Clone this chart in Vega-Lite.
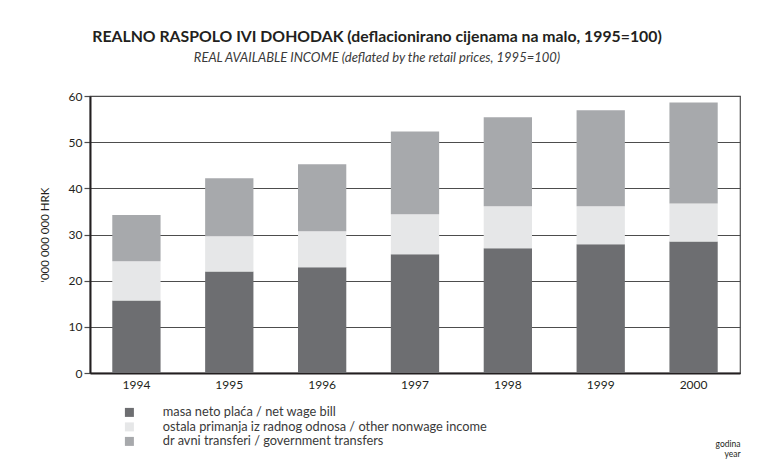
{
  "$schema": "https://vega.github.io/schema/vega-lite/v6.json",
  "width": 650,
  "height": 277,
  "autosize": {"type": "none"},
  "padding": {"left": 90, "top": 96, "right": 29, "bottom": 86},
  "background": "white",
  "title": {
    "text": "REALNO RASPOLO  IVI DOHODAK (deflacionirano cijenama na malo, 1995=100)",
    "subtitle": "REAL AVAILABLE INCOME (deflated by the retail prices, 1995=100)",
    "anchor": "middle",
    "dx": -38,
    "offset": 24,
    "font": "Lato",
    "fontSize": 15.8,
    "fontWeight": "bold",
    "color": "#231f20",
    "subtitleFont": "Lato",
    "subtitleFontSize": 13,
    "subtitleFontStyle": "italic",
    "subtitleColor": "#3a3a3a",
    "subtitlePadding": 6
  },
  "data": {
    "values": [
      {"year": "1994", "series": "masa neto plaća / net wage bill", "k": 1, "value": 15.7},
      {"year": "1994", "series": "ostala primanja iz radnog odnosa / other nonwage income", "k": 2, "value": 8.5},
      {"year": "1994", "series": "dr  avni transferi / government transfers", "k": 3, "value": 10.0},
      {"year": "1995", "series": "masa neto plaća / net wage bill", "k": 1, "value": 22.0},
      {"year": "1995", "series": "ostala primanja iz radnog odnosa / other nonwage income", "k": 2, "value": 7.6},
      {"year": "1995", "series": "dr  avni transferi / government transfers", "k": 3, "value": 12.6},
      {"year": "1996", "series": "masa neto plaća / net wage bill", "k": 1, "value": 22.9},
      {"year": "1996", "series": "ostala primanja iz radnog odnosa / other nonwage income", "k": 2, "value": 7.8},
      {"year": "1996", "series": "dr  avni transferi / government transfers", "k": 3, "value": 14.5},
      {"year": "1997", "series": "masa neto plaća / net wage bill", "k": 1, "value": 25.7},
      {"year": "1997", "series": "ostala primanja iz radnog odnosa / other nonwage income", "k": 2, "value": 8.7},
      {"year": "1997", "series": "dr  avni transferi / government transfers", "k": 3, "value": 17.9},
      {"year": "1998", "series": "masa neto plaća / net wage bill", "k": 1, "value": 27.0},
      {"year": "1998", "series": "ostala primanja iz radnog odnosa / other nonwage income", "k": 2, "value": 9.1},
      {"year": "1998", "series": "dr  avni transferi / government transfers", "k": 3, "value": 19.3},
      {"year": "1999", "series": "masa neto plaća / net wage bill", "k": 1, "value": 27.9},
      {"year": "1999", "series": "ostala primanja iz radnog odnosa / other nonwage income", "k": 2, "value": 8.2},
      {"year": "1999", "series": "dr  avni transferi / government transfers", "k": 3, "value": 20.8},
      {"year": "2000", "series": "masa neto plaća / net wage bill", "k": 1, "value": 28.5},
      {"year": "2000", "series": "ostala primanja iz radnog odnosa / other nonwage income", "k": 2, "value": 8.2},
      {"year": "2000", "series": "dr  avni transferi / government transfers", "k": 3, "value": 21.9}
    ]
  },
  "mark": {"type": "bar"},
  "encoding": {
    "x": {
      "field": "year",
      "type": "nominal",
      "scale": {"paddingInner": 0.48, "paddingOuter": 0.24},
      "axis": {
        "labelAngle": 0,
        "labelFont": "Lato",
        "labelFontSize": 12,
        "labelColor": "#231f20",
        "labelPadding": 6,
        "ticks": false,
        "domainColor": "#231f20",
        "domainWidth": 2,
        "title": ["godina", "year"],
        "titleFont": "Lato",
        "titleFontSize": 8.5,
        "titleFontWeight": "normal",
        "titleColor": "#231f20",
        "titleAnchor": "end",
        "titleAlign": "right",
        "titleX": 650,
        "titleY": 66,
        "titleLineHeight": 10
      }
    },
    "y": {
      "field": "value",
      "type": "quantitative",
      "aggregate": "sum",
      "stack": "zero",
      "scale": {"domain": [0, 60]},
      "axis": {
        "values": [0, 10, 20, 30, 40, 50, 60],
        "labelFont": "Lato",
        "labelFontSize": 12,
        "labelColor": "#231f20",
        "labelPadding": 2,
        "tickSize": 6,
        "tickColor": "#4d4d4d",
        "tickWidth": 1.2,
        "grid": true,
        "gridColor": "#4d4d4d",
        "gridWidth": 1.2,
        "domainColor": "#231f20",
        "domainWidth": 2,
        "title": "'000 000 000 HRK",
        "titleFont": "Lato",
        "titleFontSize": 11.5,
        "titleFontWeight": "normal",
        "titleColor": "#231f20",
        "titlePadding": 18
      }
    },
    "color": {
      "field": "series",
      "type": "nominal",
      "sort": [
        "masa neto plaća / net wage bill",
        "ostala primanja iz radnog odnosa / other nonwage income",
        "dr  avni transferi / government transfers"
      ],
      "scale": {
        "domain": [
          "masa neto plaća / net wage bill",
          "ostala primanja iz radnog odnosa / other nonwage income",
          "dr  avni transferi / government transfers"
        ],
        "range": ["#6d6e71", "#e6e7e8", "#a7a9ac"]
      },
      "legend": {
        "orient": "none",
        "legendX": 33,
        "legendY": 310,
        "title": null,
        "symbolType": "square",
        "symbolSize": 81,
        "symbolStrokeWidth": 0,
        "labelFont": "Lato",
        "labelFontSize": 12.8,
        "labelColor": "#3a3a3a",
        "labelOffset": 27,
        "rowPadding": 0.5,
        "labelLimit": 600
      }
    },
    "order": {"field": "k", "type": "quantitative", "sort": "ascending"}
  },
  "config": {
    "view": {"stroke": "#4d4d4d", "strokeWidth": 1.2}
  }
}
